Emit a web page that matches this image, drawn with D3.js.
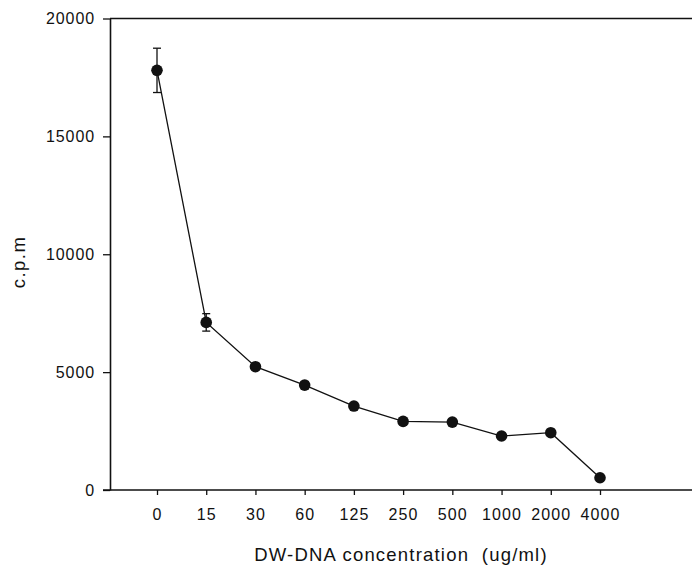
<!DOCTYPE html>
<html><head><meta charset="utf-8">
<script src="https://cdn.jsdelivr.net/npm/d3@7"></script>
<style>
body{margin:0;background:#fff;}
text{font-family:"Liberation Sans",Arial,sans-serif;fill:#111;}
</style></head>
<body><svg id="c" width="692" height="570"></svg>
<script>
const categories = ["0","15","30","60","125","250","500","1000","2000","4000"];
const values = [17800, 7110, 5230, 4450, 3560, 2910, 2880, 2290, 2430, 520];
const errors = [940, 370, 80, 150, 60, 60, 80, 60, 60, 40];
const yTicks = [0, 5000, 10000, 15000, 20000];

const svg = d3.select("#c");
const mLeft = 110, mTop = 18.5, mBottom = 490, mRight = 692;
const x = d3.scalePoint().domain(categories).range([157, 600]);
const y = d3.scaleLinear().domain([0, 20000]).range([mBottom, mTop]);

// top frame line
svg.append("line").attr("x1", mLeft).attr("x2", mRight).attr("y1", mTop).attr("y2", mTop)
  .attr("stroke", "#111").attr("stroke-width", 1.3);

// y axis
const ya = svg.append("g").attr("transform", `translate(${mLeft},0)`)
  .call(d3.axisLeft(y).tickValues(yTicks).tickFormat(d3.format("d")).tickSize(7).tickPadding(8).tickSizeOuter(0));
ya.select(".domain").attr("stroke", "#111").attr("stroke-width", 1.6);
ya.selectAll(".tick line").attr("stroke", "#111").attr("stroke-width", 1.3);
ya.selectAll("text").attr("font-size", 16).attr("fill", "#111").attr("letter-spacing", "0.9px")
  .style("font-family", '"Liberation Sans",Arial,sans-serif');

// x axis
svg.append("line").attr("x1", mLeft - 7).attr("x2", mRight).attr("y1", mBottom).attr("y2", mBottom)
  .attr("stroke", "#111").attr("stroke-width", 1.4);
const xa = svg.append("g").attr("transform", `translate(0,${mBottom})`)
  .call(d3.axisBottom(x).tickSize(5).tickPadding(14).tickSizeOuter(0));
xa.select(".domain").remove();
xa.selectAll(".tick line").attr("stroke", "#111").attr("stroke-width", 1.3);
xa.selectAll("text").attr("font-size", 16).attr("fill", "#111").attr("letter-spacing", "1.1px")
  .style("font-family", '"Liberation Sans",Arial,sans-serif');

// line
const line = d3.line().x((d, i) => x(categories[i])).y(d => y(d));
svg.append("path").datum(values).attr("d", line).attr("fill", "none")
  .attr("stroke", "#111").attr("stroke-width", 1.3);

// error bars
const eb = svg.append("g").attr("stroke", "#111").attr("stroke-width", 1.3);
values.forEach((v, i) => {
  const cx = x(categories[i]);
  eb.append("line").attr("x1", cx).attr("x2", cx).attr("y1", y(v + errors[i])).attr("y2", y(v - errors[i]));
  eb.append("line").attr("x1", cx - 4).attr("x2", cx + 4).attr("y1", y(v + errors[i])).attr("y2", y(v + errors[i]));
  eb.append("line").attr("x1", cx - 4).attr("x2", cx + 4).attr("y1", y(v - errors[i])).attr("y2", y(v - errors[i]));
});

// points
svg.append("g").selectAll("circle").data(values).join("circle")
  .attr("cx", (d, i) => x(categories[i])).attr("cy", d => y(d)).attr("r", 5.8).attr("fill", "#111");

// axis titles
svg.append("text").attr("transform", "translate(25,262) rotate(-90)").attr("text-anchor", "middle")
  .attr("font-size", 18.5).attr("letter-spacing", "1.5px").text("c.p.m");
svg.append("text").attr("x", 401).attr("y", 561).attr("text-anchor", "middle")
  .attr("font-size", 18.5).attr("letter-spacing", "1.2px").style("white-space", "pre")
  .text("DW-DNA concentration  (ug/ml)");
</script></body></html>
